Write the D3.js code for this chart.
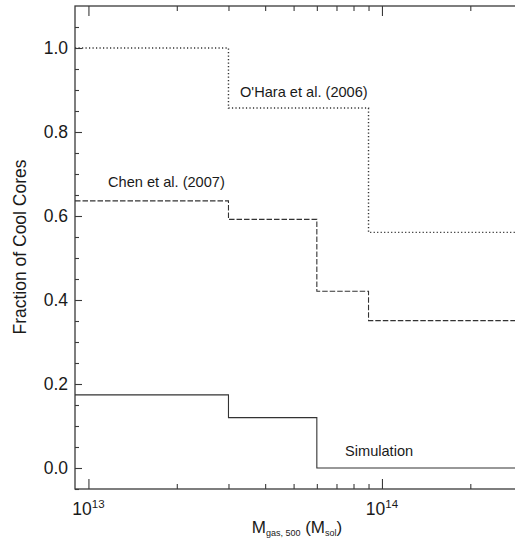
<!DOCTYPE html>
<html>
<head>
<meta charset="utf-8">
<script src="https://cdn.jsdelivr.net/npm/d3@7"></script>
<style>
  html, body { margin: 0; padding: 0; background: #fff; }
  svg { display: block; font-family: "Liberation Sans", Arial, sans-serif; }
</style>
</head>
<body>
<svg id="chart" width="515" height="543"></svg>
<script>
// ---- data ----
const xDomain = [9e12, 3e14];
const yDomain = [-0.05, 1.1];

const oharaEdges = [9e12, 3e13, 9e13, 3e14];
const oharaValues = [1.0, 0.857, 0.561];

const chenEdges = [9e12, 3e13, 6e13, 9e13, 3e14];
const chenValues = [0.636, 0.592, 0.421, 0.351];

const simEdges = [9e12, 3e13, 6e13, 3e14];
const simValues = [0.174, 0.12, 0.0];

const xMajorTicks = [1e13, 1e14];
const xMinorTicks = [2e13, 3e13, 4e13, 5e13, 6e13, 7e13, 8e13, 9e13, 2e14];
const xTickExponents = ["13", "14"];
const yMajorTicks = [0.0, 0.2, 0.4, 0.6, 0.8, 1.0];
const yMinorTicks = [-0.05, 0.05, 0.1, 0.15, 0.25, 0.3, 0.35, 0.45, 0.5, 0.55, 0.65, 0.7, 0.75, 0.85, 0.9, 0.95, 1.05];

const seriesLabels = ["O'Hara et al. (2006)", "Chen et al. (2007)", "Simulation"];

(function () {
// ---- layout ----
const svg = d3.select("#chart");
const pL = 75, pT = 6, pR = 522, pB = 489;
const x = d3.scaleLog().domain(xDomain).range([pL, pR]);
const y = d3.scaleLinear().domain(yDomain).range([pB, pT]);

const axisColor = "#3a3a3a";
const lineColor = "#333";
const textColor = "#1a1a1a";

// ---- frame ----
svg.append("rect")
  .attr("x", pL).attr("y", pT)
  .attr("width", pR - pL).attr("height", pB - pT)
  .attr("fill", "none").attr("stroke", axisColor).attr("stroke-width", 1.3);

function styleAxis(g) {
  g.select(".domain").remove();
  g.selectAll(".tick line").attr("stroke", axisColor).attr("stroke-width", 1.1);
}

// x axes (bottom & top), ticks inward
svg.append("g").attr("transform", `translate(0,${pB})`)
  .call(d3.axisBottom(x).tickValues(xMajorTicks).tickSize(-10).tickFormat(""))
  .call(styleAxis);
svg.append("g").attr("transform", `translate(0,${pB})`)
  .call(d3.axisBottom(x).tickValues(xMinorTicks).tickSize(-5).tickFormat(""))
  .call(styleAxis);
svg.append("g").attr("transform", `translate(0,${pT})`)
  .call(d3.axisTop(x).tickValues(xMajorTicks).tickSize(-10).tickFormat(""))
  .call(styleAxis);
svg.append("g").attr("transform", `translate(0,${pT})`)
  .call(d3.axisTop(x).tickValues(xMinorTicks).tickSize(-5).tickFormat(""))
  .call(styleAxis);

// y axes (left & right), ticks inward
const yLeft = svg.append("g").attr("transform", `translate(${pL},0)`)
  .call(d3.axisLeft(y).tickValues(yMajorTicks).tickSize(-7).tickPadding(7).tickFormat(d3.format(".1f")))
  .call(styleAxis);
yLeft.selectAll("text")
  .attr("font-size", 17.5).attr("fill", textColor)
  .attr("font-family", "'Liberation Sans', Arial, sans-serif");
svg.append("g").attr("transform", `translate(${pL},0)`)
  .call(d3.axisLeft(y).tickValues(yMinorTicks).tickSize(-4).tickFormat(""))
  .call(styleAxis);
svg.append("g").attr("transform", `translate(${pR},0)`)
  .call(d3.axisRight(y).tickValues(yMajorTicks).tickSize(-7).tickFormat(""))
  .call(styleAxis);
svg.append("g").attr("transform", `translate(${pR},0)`)
  .call(d3.axisRight(y).tickValues(yMinorTicks).tickSize(-4).tickFormat(""))
  .call(styleAxis);

// x tick labels with superscript exponents
xMajorTicks.forEach((v, i) => {
  const t = svg.append("text")
    .attr("x", x(v)).attr("y", 515)
    .attr("text-anchor", "middle")
    .attr("font-size", 17.5).attr("fill", textColor);
  t.append("tspan").text("10");
  t.append("tspan").attr("font-size", 11.5).attr("dy", -7).text(xTickExponents[i]);
});

// axis titles
const xt = svg.append("text")
  .attr("x", 297).attr("y", 533)
  .attr("text-anchor", "middle")
  .attr("font-size", 17).attr("fill", textColor);
xt.append("tspan").text("M");
xt.append("tspan").attr("font-size", 9).attr("dy", 3).text("gas, 500");
xt.append("tspan").attr("dy", -3).text(" (M");
xt.append("tspan").attr("font-size", 9).attr("dy", 3).text("sol");
xt.append("tspan").attr("dy", -3).text(")");

svg.append("text")
  .attr("transform", `translate(26,247) rotate(-90)`)
  .attr("text-anchor", "middle")
  .attr("font-size", 17.5).attr("fill", textColor)
  .text("Fraction of Cool Cores");

// ---- step lines ----
const line = d3.line()
  .x(d => x(d[0])).y(d => y(d[1]))
  .curve(d3.curveStepAfter);

function stepPoints(edges, values) {
  const pts = values.map((v, i) => [edges[i], v]);
  pts.push([edges[edges.length - 1], values[values.length - 1]]);
  return pts;
}

svg.append("clipPath").attr("id", "plotclip")
  .append("rect").attr("x", pL).attr("y", pT)
  .attr("width", pR - pL).attr("height", pB - pT);

const plot = svg.append("g").attr("clip-path", "url(#plotclip)");

plot.append("path")
  .attr("d", line(stepPoints(oharaEdges, oharaValues)))
  .attr("fill", "none").attr("stroke", lineColor).attr("stroke-width", 1.4)
  .attr("stroke-dasharray", "1.2,2.3");

plot.append("path")
  .attr("d", line(stepPoints(chenEdges, chenValues)))
  .attr("fill", "none").attr("stroke", lineColor).attr("stroke-width", 1.1)
  .attr("stroke-dasharray", "5.5,2");

plot.append("path")
  .attr("d", line(stepPoints(simEdges, simValues)))
  .attr("fill", "none").attr("stroke", lineColor).attr("stroke-width", 1.1);

// ---- series labels ----
svg.append("text").attr("x", 240).attr("y", 97)
  .attr("font-size", 14.6).attr("fill", textColor).text(seriesLabels[0]);
svg.append("text").attr("x", 108).attr("y", 187)
  .attr("font-size", 14.6).attr("fill", textColor).text(seriesLabels[1]);
svg.append("text").attr("x", 345).attr("y", 456)
  .attr("font-size", 14.6).attr("fill", textColor).text(seriesLabels[2]);
})();
</script>
</body>
</html>
